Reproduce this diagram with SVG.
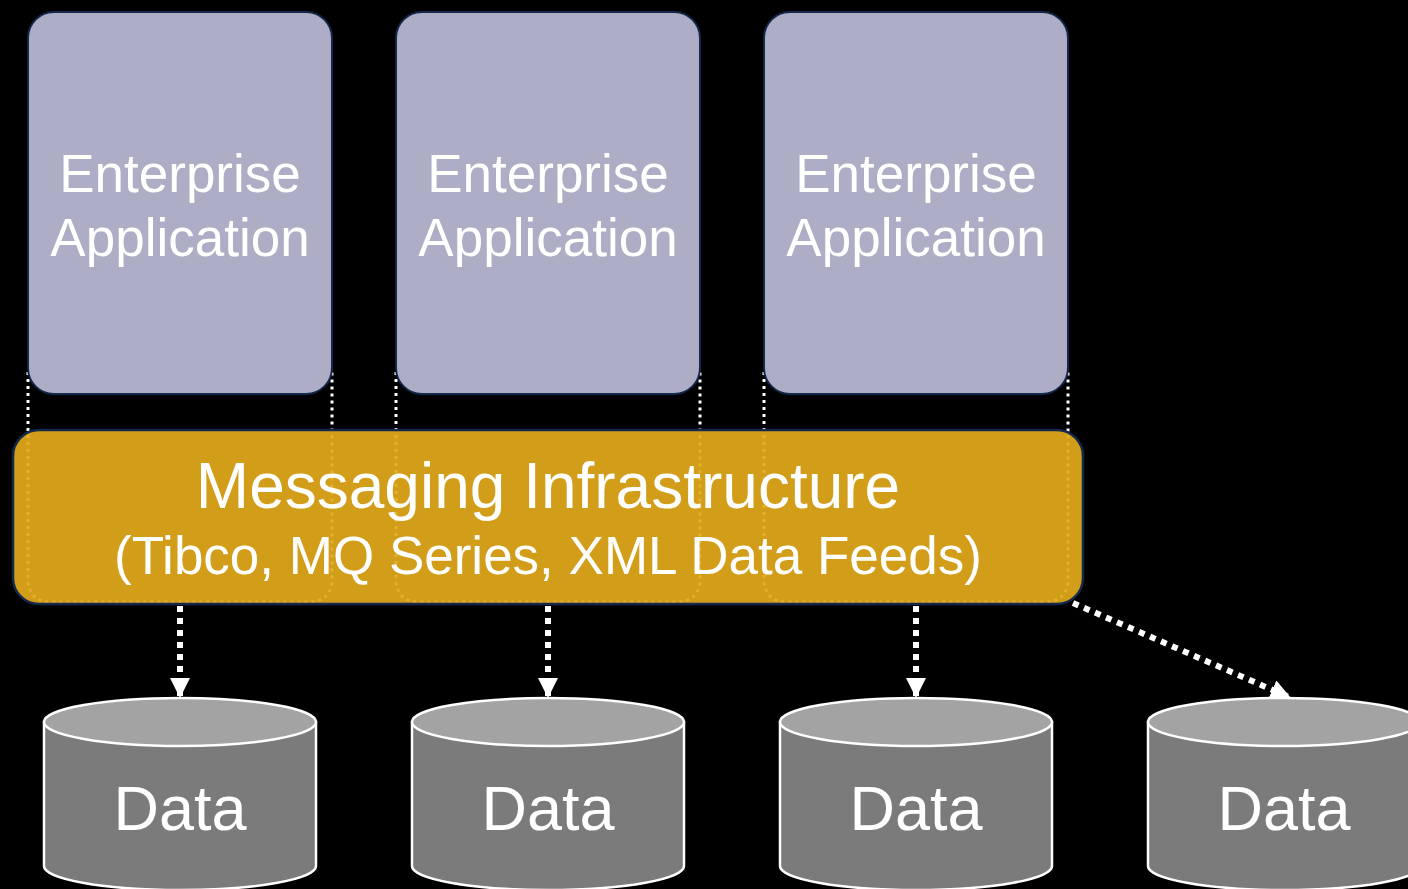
<svg xmlns="http://www.w3.org/2000/svg" width="1408" height="889" viewBox="0 0 1408 889">
  <defs>
    <style>
      .app { fill: #adadc5; stroke: #14284b; stroke-width: 2; }
      .guide { fill: none; stroke: #ffffff; stroke-width: 3; stroke-dasharray: 3 4; }
      .bus { fill: #e2a91a; fill-opacity: 0.93; stroke: #14284b; stroke-width: 2.5; }
      .label { fill: #ffffff; font-family: "Liberation Sans", Arial, sans-serif; text-anchor: middle; }
      .flow { stroke: #ffffff; stroke-width: 6; stroke-dasharray: 6 6; fill: none; }
      .drum-body { fill: #7b7b7b; stroke: #ffffff; stroke-width: 2.5; }
      .drum-top { fill: #a3a3a3; stroke: #ffffff; stroke-width: 2.5; }
    </style>
    <marker id="head" viewBox="0 0 10 10" refX="10" refY="5" markerWidth="3.4" markerHeight="3.4" orient="auto" markerUnits="strokeWidth">
      <path d="M0,0 L10,5 L0,10 Z" fill="#ffffff"/>
    </marker>
  </defs>

  <rect x="0" y="0" width="1408" height="889" fill="#000000"/>

  <!-- dotted outlines tying each application to the bus -->
  <g id="guides">
    <path class="guide" d="M28,372 L28,578 Q28,602 52,602 L308,602 Q332,602 332,578 L332,372"/>
    <path class="guide" d="M396,372 L396,578 Q396,602 420,602 L676,602 Q700,602 700,578 L700,372"/>
    <path class="guide" d="M764,372 L764,578 Q764,602 788,602 L1044,602 Q1068,602 1068,578 L1068,372"/>
  </g>

  <g id="app1">
    <rect class="app" x="28" y="12" width="304" height="382" rx="26" ry="26"/>
    <text class="label" x="180" y="192" font-size="53">Enterprise</text>
    <text class="label" x="180" y="256" font-size="53">Application</text>
  </g>
  <g id="app2">
    <rect class="app" x="396" y="12" width="304" height="382" rx="26" ry="26"/>
    <text class="label" x="548" y="192" font-size="53">Enterprise</text>
    <text class="label" x="548" y="256" font-size="53">Application</text>
  </g>
  <g id="app3">
    <rect class="app" x="764" y="12" width="304" height="382" rx="26" ry="26"/>
    <text class="label" x="916" y="192" font-size="53">Enterprise</text>
    <text class="label" x="916" y="256" font-size="53">Application</text>
  </g>

  <g id="bus">
    <rect class="bus" x="13" y="430" width="1070" height="174" rx="26" ry="26"/>
    <text class="label" x="548" y="508" font-size="64">Messaging Infrastructure</text>
    <text class="label" x="548" y="574" font-size="53">(Tibco, MQ Series, XML Data Feeds)</text>
  </g>

  <g id="connectors">
    <line class="flow" x1="180" y1="606" x2="180" y2="698" marker-end="url(#head)"/>
    <line class="flow" x1="548" y1="606" x2="548" y2="698" marker-end="url(#head)"/>
    <line class="flow" x1="916" y1="606" x2="916" y2="698" marker-end="url(#head)"/>
    <line class="flow" x1="1073" y1="603" x2="1291" y2="698" marker-end="url(#head)"/>
  </g>

  <g id="data1">
    <path class="drum-body" d="M44,722 L44,866 A136,24 0 0 0 316,866 L316,722 Z"/>
    <ellipse class="drum-top" cx="180" cy="722" rx="136" ry="24"/>
    <text class="label" x="180" y="830" font-size="63">Data</text>
  </g>
  <g id="data2">
    <path class="drum-body" d="M412,722 L412,866 A136,24 0 0 0 684,866 L684,722 Z"/>
    <ellipse class="drum-top" cx="548" cy="722" rx="136" ry="24"/>
    <text class="label" x="548" y="830" font-size="63">Data</text>
  </g>
  <g id="data3">
    <path class="drum-body" d="M780,722 L780,866 A136,24 0 0 0 1052,866 L1052,722 Z"/>
    <ellipse class="drum-top" cx="916" cy="722" rx="136" ry="24"/>
    <text class="label" x="916" y="830" font-size="63">Data</text>
  </g>
  <g id="data4">
    <path class="drum-body" d="M1148,722 L1148,866 A136,24 0 0 0 1420,866 L1420,722 Z"/>
    <ellipse class="drum-top" cx="1284" cy="722" rx="136" ry="24"/>
    <text class="label" x="1284" y="830" font-size="63">Data</text>
  </g>
</svg>
